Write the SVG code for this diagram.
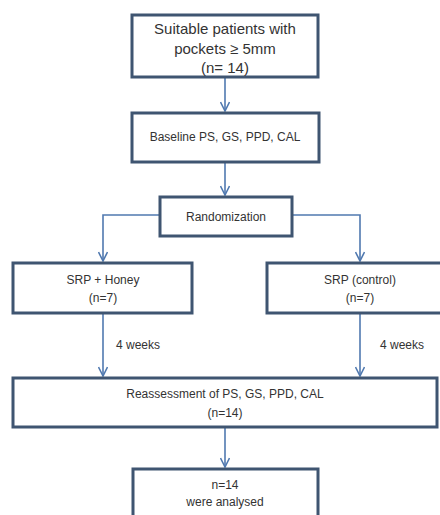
<svg xmlns="http://www.w3.org/2000/svg" width="440" height="515" viewBox="0 0 440 515">
<defs>
<style>
.box{fill:#ffffff;stroke:#3f5571;stroke-width:3}
.t{font-family:"Liberation Sans",Arial,sans-serif;fill:#333333;text-anchor:middle}
.big{font-size:15px}
.sm{font-size:12px}
.c{fill:none;stroke:#5079b0;stroke-width:1.6}
</style>
<marker id="ah" markerWidth="12" markerHeight="10" refX="10" refY="5" orient="auto" markerUnits="userSpaceOnUse">
<path d="M1,0.5 L10,5 L1,9.5" fill="none" stroke="#5079b0" stroke-width="1.6"/>
</marker>
</defs>
<rect width="440" height="515" fill="#ffffff"/>
<g id="connectors">
<line class="c" x1="225" y1="78" x2="225" y2="111" marker-end="url(#ah)"/>
<line class="c" x1="225" y1="163" x2="225" y2="195" marker-end="url(#ah)"/>
<polyline class="c" points="160,215 103,215 103,261" marker-end="url(#ah)"/>
<polyline class="c" points="292,215 360,215 360,261" marker-end="url(#ah)"/>
<line class="c" x1="103" y1="314" x2="103" y2="376" marker-end="url(#ah)"/>
<line class="c" x1="360" y1="314" x2="360" y2="376" marker-end="url(#ah)"/>
<line class="c" x1="225" y1="428" x2="225" y2="467" marker-end="url(#ah)"/>
<text class="t sm" x="138" y="349">4 weeks</text>
<text class="t sm" x="402" y="349">4 weeks</text>
</g>
<g id="n1">
<rect class="box" x="132" y="15" width="186" height="62"/>
<text class="t big" x="225" y="34">Suitable patients with</text>
<text class="t big" x="225" y="54">pockets ≥ 5mm</text>
<text class="t big" x="225" y="73">(n= 14)</text>
</g>
<g id="n2">
<rect class="box" x="132" y="113" width="187" height="49"/>
<text class="t sm" x="225" y="141">Baseline PS, GS, PPD, CAL</text>
</g>
<g id="n3">
<rect class="box" x="160" y="197" width="132" height="39"/>
<text class="t sm" x="226" y="221">Randomization</text>
</g>
<g id="n4">
<rect class="box" x="13" y="263" width="179" height="50"/>
<text class="t sm" x="103" y="284">SRP + Honey</text>
<text class="t sm" x="103" y="302">(n=7)</text>
</g>
<g id="n5">
<rect class="box" x="267" y="263" width="180" height="50"/>
<text class="t sm" x="360" y="284">SRP (control)</text>
<text class="t sm" x="360" y="302">(n=7)</text>
</g>
<g id="n6">
<rect class="box" x="13" y="378" width="424" height="49"/>
<text class="t sm" x="225" y="398">Reassessment of PS, GS, PPD, CAL</text>
<text class="t sm" x="225" y="417">(n=14)</text>
</g>
<g id="n7">
<rect class="box" x="133" y="469" width="185" height="60"/>
<text class="t sm" x="225" y="489">n=14</text>
<text class="t sm" x="225" y="506">were analysed</text>
</g>
</svg>
